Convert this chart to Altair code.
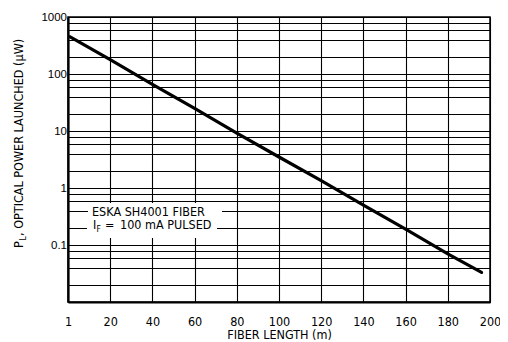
import altair as alt
import pandas as pd

# ---- data ----
fiber_length_m = [1, 20, 40, 60, 80, 100, 120, 140, 160, 180, 196]
power_uW = [450, 178, 66, 25, 9.2, 3.5, 1.35, 0.5, 0.19, 0.07, 0.033]

x_tick_values = [0, 20, 40, 60, 80, 100, 120, 140, 160, 180, 200]
x_tick_labels = ["1", "20", "40", "60", "80", "100", "120", "140", "160", "180", "200"]

y_grid_values = [0.01, 0.02, 0.04, 0.06, 0.08,
                 0.1, 0.2, 0.4, 0.6, 0.8,
                 1, 2, 4, 6, 8,
                 10, 20, 40, 60, 80,
                 100, 200, 400, 600, 800, 1000]
y_label_values = [0.1, 1, 10, 100, 1000]
y_label_texts = ["0.1", "1", "10", "100", "1000"]

legend_line1 = "ESKA SH4001 FIBER"
legend_line2_main = "I"
legend_line2_sub = "F"
legend_line2_eq = "="
legend_line2_rest = "100 mA PULSED"

y_title_main = "P"
y_title_sub = "L"
y_title_rest = ", OPTICAL POWER LAUNCHED (\u03bcW)"
x_title = "FIBER LENGTH (m)"

df = pd.DataFrame({"length": fiber_length_m, "power": power_uW})

NARROW = "'DejaVu Sans Condensed', 'Liberation Sans Narrow', sans-serif"
REG = "'Liberation Sans', Arial, sans-serif"


def label_expr(values, texts):
    parts = [f"datum.value == {v} ? '{t}'" for v, t in zip(values, texts)]
    return " : ".join(parts) + " : ''"


x_axis = alt.Axis(
    values=x_tick_values,
    labelExpr=label_expr(x_tick_values, x_tick_labels),
    title=x_title,
    titleFont=NARROW, titleFontSize=12.5, titleFontWeight="normal", titleColor="black",
    titleBaseline="alphabetic", titleY=36.5, titleX=211, titleAlign="center",
    grid=True, gridColor="black", gridWidth=1.1, gridOpacity=1,
    ticks=False, tickSize=0,
    domain=True, domainColor="black", domainWidth=2.2,
    labelFont=NARROW, labelFontSize=12.5, labelColor="black", labelAngle=0,
    labelBaseline="alphabetic", labelPadding=23,
    labelFlush=False, labelOverlap=False, labelBound=False,
)

y_axis = alt.Axis(
    values=y_grid_values,
    labelExpr=label_expr(y_label_values, y_label_texts),
    title=None,
    grid=True, gridColor="black", gridWidth=1.1, gridOpacity=1,
    ticks=False, tickSize=0,
    domain=True, domainColor="black", domainWidth=2.2,
    labelFont=REG, labelFontSize=11.5, labelColor="black",
    labelBaseline="middle", labelPadding=1.5,
    labelFlush=False, labelOverlap=False, labelBound=False,
)

line = alt.Chart(df).mark_line(color="black", strokeWidth=3.2, strokeCap="round").encode(
    x=alt.X("length:Q", scale=alt.Scale(domain=[0, 200], nice=False, zero=False), axis=x_axis),
    y=alt.Y("power:Q", scale=alt.Scale(type="log", domain=[0.01, 1000], nice=False), axis=y_axis),
)

one = alt.Data(values=[{"k": 1}])


def rect(x1, x2, y1, y2):
    return alt.Chart(one).mark_rect(color="white").encode(
        x=alt.value(x1), x2=alt.value(x2), y=alt.value(y1), y2=alt.value(y2))


def txt(s, x, y, size, font=NARROW, angle=0):
    kw = dict(text=s, align="left", baseline="alphabetic", font=font,
              fontSize=size, color="black")
    if angle:
        kw["angle"] = angle
    return alt.Chart(one).mark_text(**kw).encode(x=alt.value(x), y=alt.value(y))


layers = [
    rect(20, 154, 186, 203),
    rect(19, 149, 203, 221),
    txt(legend_line1, 24, 198.7, 12.5),
    txt(legend_line2_main, 25, 212.3, 12.5),
    txt(legend_line2_sub, 28.5, 214.5, 8.5),
    txt(legend_line2_eq, 37, 212.3, 12.5),
    txt(legend_line2_rest, 52, 212.3, 12.5),
    txt(y_title_main, -45, 231, 12.5, angle=270),
    txt(y_title_sub, -42, 223.5, 8.5, angle=270),
    txt(y_title_rest, -45, 219, 12.5, angle=270),
    line,
]

chart = alt.layer(*layers).properties(
    width=422, height=285,
    autosize=alt.AutoSizeParams(type="none"),
    padding={"left": 60, "top": 9, "right": 10, "bottom": 40},
    background="white",
).configure_view(stroke="black", strokeWidth=1.5)

chart.save("out.html", embed_options={"renderer": "svg", "actions": False})
